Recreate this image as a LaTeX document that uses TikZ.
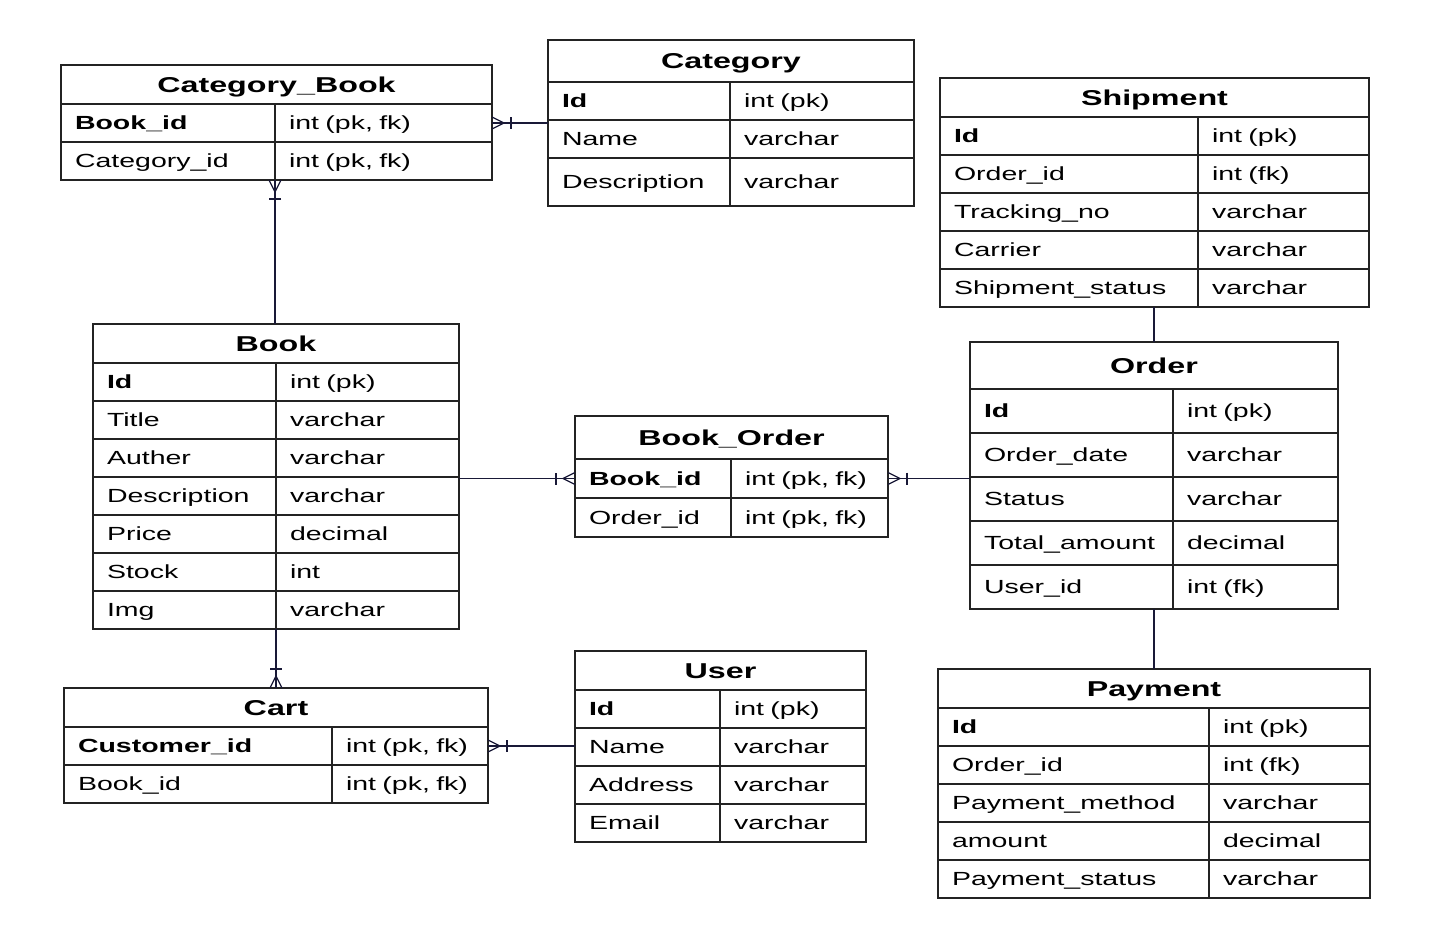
\documentclass[tikz,border=0pt]{standalone}
\usepackage{fontspec}
\setmainfont[FakeStretch=1.5]{Liberation Sans}
\usetikzlibrary{calc}

\definecolor{tabline}{RGB}{35,35,35}
\definecolor{connline}{RGB}{25,25,55}
\newcommand{\erRow}{\fontsize{19}{22}\selectfont}
\newcommand{\erTitle}{\fontsize{21.5}{24}\selectfont\bfseries}

\tikzset{
  tbl/.style={draw=tabline, line width=1.3pt, anchor=north west, inner sep=0pt, outer sep=0pt,
    text height=17pt, text depth=1.6pt, font=\erTitle},
  cell/.style={draw=tabline, line width=1.3pt, anchor=north west, inner xsep=14pt, outer sep=0pt,
    inner ysep=0pt, align=left, text height=15pt, text depth=1.4pt, font=\erRow},
  conn/.style={draw=connline, line width=1.3pt},
  manyone/.pic={
    \draw[conn] (0,-6) -- (12,0) -- (0,6);
    \draw[conn] (19,-6) -- (19,6);
  }
}

\begin{document}
\begin{tikzpicture}[x=1pt,y=-1pt]
    \fill[white] (0,0) rectangle (1430,937);

    % Category_Book
    \node[tbl, minimum width=431, minimum height=39] (catbook) at (61,65) {Category\_Book};
    \foreach \k/\v [count=\i from 0] in {\textbf{Book\_id}/{int (pk, fk)}, Category\_id/{int (pk, fk)}} {
        \node[cell, minimum height=38, text width=186pt] (cb-k\i) at (61,104+38*\i) {\k};
        \node[cell, minimum height=38, text width=189pt] (cb-v\i) at (275,104+38*\i) {\v};
    }

    % Category
    \node[tbl, minimum width=366, minimum height=42] (category) at (548,40) {Category};
    \foreach \k/\v [count=\i from 0] in {\textbf{Id}/int (pk), Name/varchar} {
        \node[cell, minimum height=38, text width=154pt] (cat-k\i) at (548,82+38*\i) {\k};
        \node[cell, minimum height=38, text width=156pt] (cat-v\i) at (730,82+38*\i) {\v};
    }
    \node[cell, minimum height=48, text width=154pt] (cat-k2) at (548,158) {Description};
    \node[cell, minimum height=48, text width=156pt] (cat-v2) at (730,158) {varchar};

    % Shipment
    \node[tbl, minimum width=429, minimum height=39] (shipment) at (940,78) {Shipment};
    \foreach \k/\v [count=\i from 0] in {\textbf{Id}/int (pk), Order\_id/int (fk), Tracking\_no/varchar,
        Carrier/varchar, Shipment\_status/varchar} {
        \node[cell, minimum height=38, text width=230pt] (ship-k\i) at (940,117+38*\i) {\k};
        \node[cell, minimum height=38, text width=143pt] (ship-v\i) at (1198,117+38*\i) {\v};
    }

    % Book
    \node[tbl, minimum width=366, minimum height=39] (book) at (93,324) {Book};
    \foreach \k/\v [count=\i from 0] in {\textbf{Id}/int (pk), Title/varchar, Auther/varchar,
        Description/varchar, Price/decimal, Stock/int, Img/varchar} {
        \node[cell, minimum height=38, text width=155pt] (book-k\i) at (93,363+38*\i) {\k};
        \node[cell, minimum height=38, text width=155pt] (book-v\i) at (276,363+38*\i) {\v};
    }

    % Book_Order
    \node[tbl, minimum width=313, minimum height=43] (bookorder) at (575,416) {Book\_Order};
    \foreach \k/\v [count=\i from 0] in {\textbf{Book\_id}/{int (pk, fk)}, Order\_id/{int (pk, fk)}} {
        \node[cell, minimum height=39, text width=128pt] (bo-k\i) at (575,459+39*\i) {\k};
        \node[cell, minimum height=39, text width=129pt] (bo-v\i) at (731,459+39*\i) {\v};
    }

    % Order
    \node[tbl, minimum width=368, minimum height=47] (order) at (970,342) {Order};
    \foreach \k/\v [count=\i from 0] in {\textbf{Id}/int (pk), Order\_date/varchar, Status/varchar,
        Total\_amount/decimal, User\_id/int (fk)} {
        \node[cell, minimum height=44, text width=175pt] (order-k\i) at (970,389+44*\i) {\k};
        \node[cell, minimum height=44, text width=137pt] (order-v\i) at (1173,389+44*\i) {\v};
    }

    % Cart
    \node[tbl, minimum width=424, minimum height=39] (cart) at (64,688) {Cart};
    \foreach \k/\v [count=\i from 0] in {\textbf{Customer\_id}/{int (pk, fk)}, Book\_id/{int (pk, fk)}} {
        \node[cell, minimum height=38, text width=240pt] (cart-k\i) at (64,727+38*\i) {\k};
        \node[cell, minimum height=38, text width=128pt] (cart-v\i) at (332,727+38*\i) {\v};
    }

    % User
    \node[tbl, minimum width=291, minimum height=39] (user) at (575,651) {User};
    \foreach \k/\v [count=\i from 0] in {\textbf{Id}/int (pk), Name/varchar, Address/varchar, Email/varchar} {
        \node[cell, minimum height=38, text width=117pt] (user-k\i) at (575,690+38*\i) {\k};
        \node[cell, minimum height=38, text width=118pt] (user-v\i) at (720,690+38*\i) {\v};
    }

    % Payment
    \node[tbl, minimum width=432, minimum height=39] (payment) at (938,669) {Payment};
    \foreach \k/\v [count=\i from 0] in {\textbf{Id}/int (pk), Order\_id/int (fk), Payment\_method/varchar,
        amount/decimal, Payment\_status/varchar} {
        \node[cell, minimum height=38, text width=243pt] (pay-k\i) at (938,708+38*\i) {\k};
        \node[cell, minimum height=38, text width=133pt] (pay-v\i) at (1209,708+38*\i) {\v};
    }

    % the relations
    \draw[conn] (cb-v0.east) -- (cb-v0.east -| category.west);
    \pic at (cb-v0.east) {manyone};
    \draw[conn] (cb-k1.south east) -- (cb-k1.south east |- book.north);
    \pic[rotate=-90] at (cb-k1.south east) {manyone};
    \draw[conn] (bo-k0.west -| book.east) -- (bo-k0.west);
    \pic[rotate=180] at (bo-k0.west) {manyone};
    \draw[conn] (bo-v0.east) -- (bo-v0.east -| order.west);
    \pic at (bo-v0.east) {manyone};
    \draw[conn] (cart.north |- book-k6.south) -- (cart.north);
    \pic[rotate=90] at (cart.north) {manyone};
    \draw[conn] (cart-v0.east) -- (cart-v0.east -| user.west);
    \pic at (cart-v0.east) {manyone};
    \draw[conn] (order.north |- ship-v4.south) -- (order.north);
    \draw[conn] (payment.north |- order-v4.south) -- (payment.north);
\end{tikzpicture}
\end{document}
